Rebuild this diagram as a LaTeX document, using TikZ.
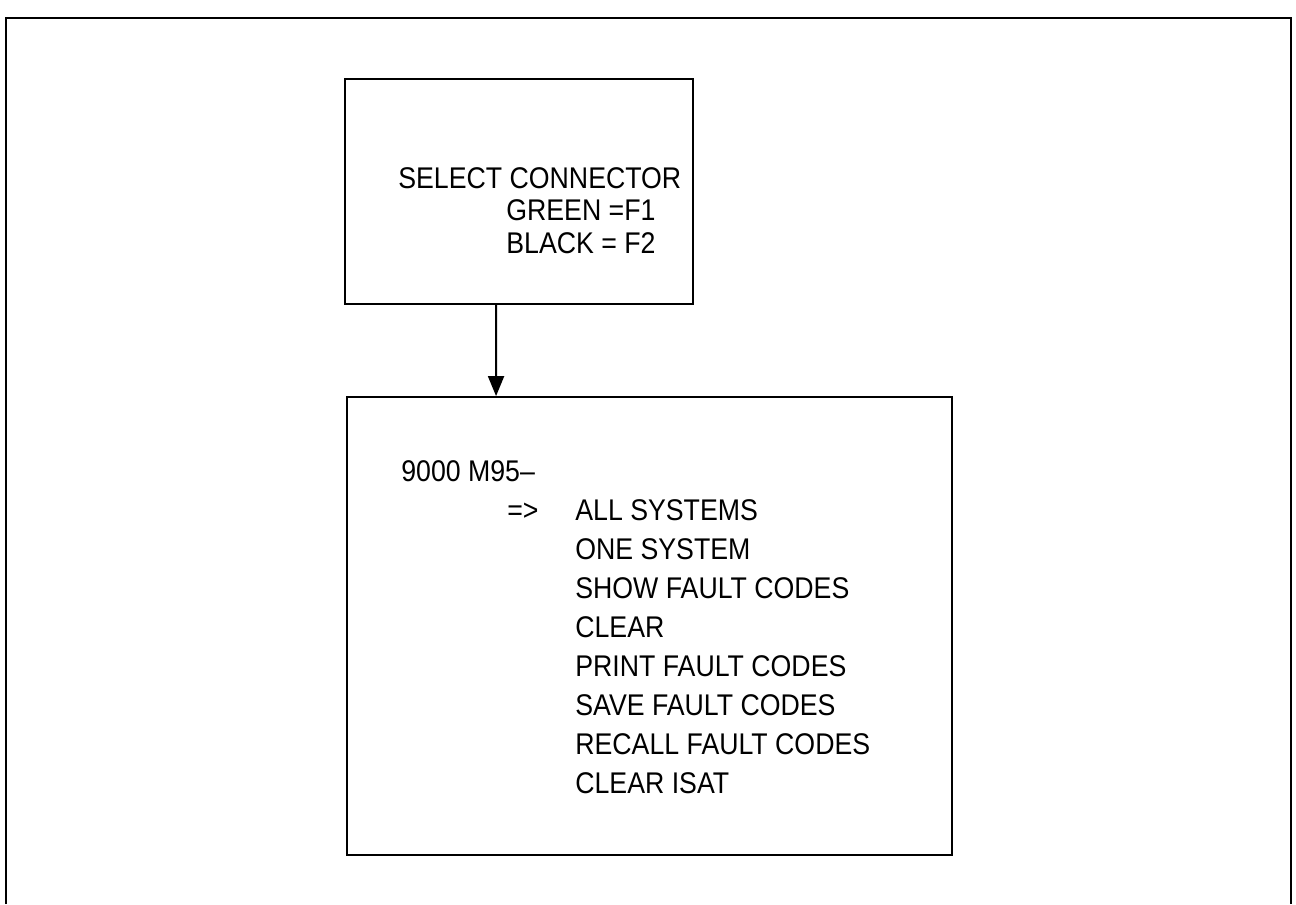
\documentclass[tikz,border=0pt]{standalone}
\usepackage{fontspec}
\setmainfont{Liberation Sans}
\usetikzlibrary{arrows.meta,positioning}
\newcommand{\tallcaps}[1]{\scalebox{1}[1.12]{#1}}

\begin{document}
\begin{tikzpicture}[x=0.02cm,y=-0.02cm,
      box/.style={draw,line width=1.1pt,minimum width=#1,inner sep=0pt},
      txt/.style={anchor=base west,inner sep=0pt,font=\fontsize{15.2}{18}\selectfont},
      arr/.style={-{Triangle[length=4mm,width=3.2mm]},line width=1.1pt}
    ]
    \useasboundingbox (0,0) rectangle (1296,904);
    % outer frame, open at the bottom edge
    \draw[line width=1.3pt] (6,904) -- (6,18) -- (1291,18) -- (1291,904);
    % connector selection screen
    \node[box=6.96cm,minimum height=4.5cm] (select) at (519,191.5) {};
    \node[txt] (selecttitle) at (398,188) {\tallcaps{SELECT CONNECTOR}};
    \node[txt] (green) at (506,220) {\tallcaps{GREEN =F1}};
    \node[txt] (black) at (506,253) {\tallcaps{BLACK = F2}};
    % main menu screen
    \node[box=12.1cm,minimum height=9.16cm] (menu) at (649.5,626) {};
    \node[txt] (menutitle) at (401,481) {\tallcaps{9000 M95–}};
    \node[txt] (cursor) at (507,520) {\tallcaps{=>}};
    \foreach \item [count=\i from 0] in {ALL SYSTEMS,ONE SYSTEM,SHOW FAULT CODES,CLEAR,PRINT FAULT CODES,SAVE FAULT CODES,RECALL FAULT CODES,CLEAR ISAT}
      \node[txt] (item\i) at (575,520+39*\i) {\tallcaps{\item}};
    \draw[arr] ([xshift=3.04cm]select.south west) -- ([xshift=3.0cm]menu.north west);
  \end{tikzpicture}
\end{document}
